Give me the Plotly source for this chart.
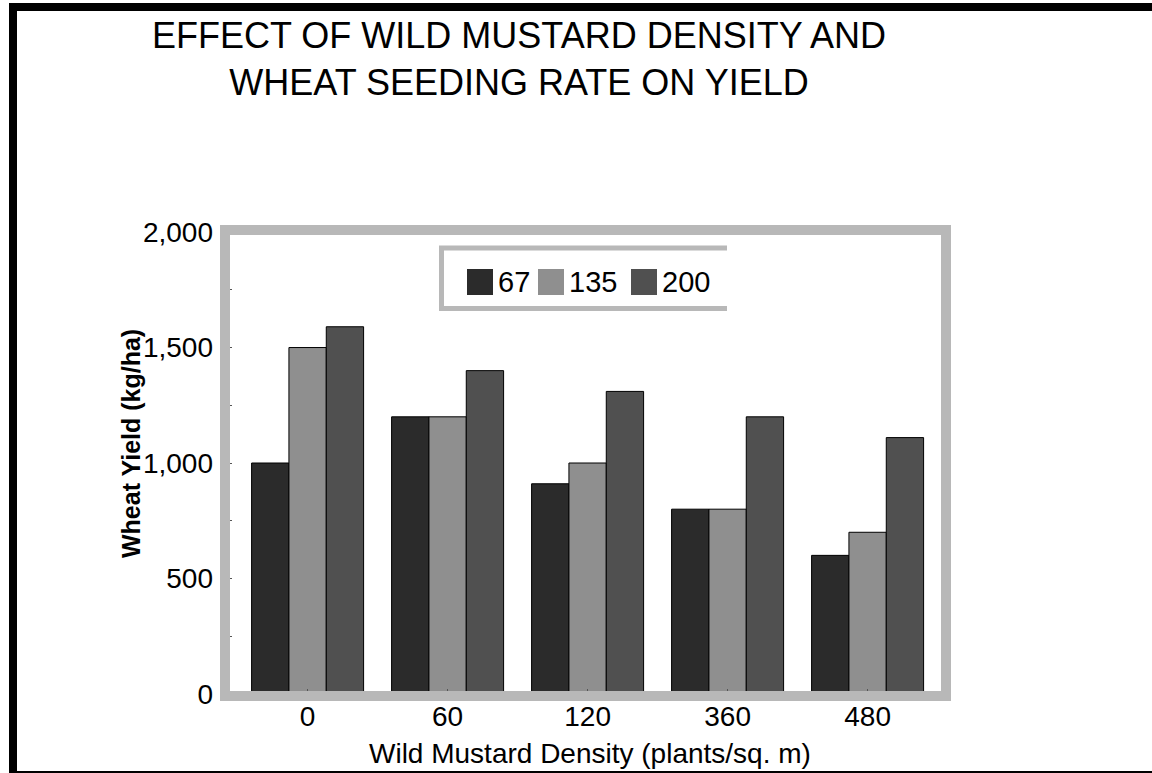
import plotly.graph_objects as go

# ---- data ----
categories = ["0", "60", "120", "360", "480"]
series_names = ["67", "135", "200"]
yield_67 = [1000, 1200, 910, 800, 600]
yield_135 = [1500, 1200, 1000, 800, 700]
yield_200 = [1590, 1400, 1310, 1200, 1110]
y_tick_vals = [0, 500, 1000, 1500, 2000]
y_tick_text = ["0", "500", "1,000", "1,500", "2,000"]

series_values = [yield_67, yield_135, yield_200]
colors = ["#2b2b2b", "#8f8f8f", "#505050"]

FONT = "Arial, Liberation Sans, sans-serif"

fig = go.Figure()
for name, vals, col in zip(series_names, series_values, colors):
    fig.add_trace(go.Bar(
        x=categories, y=vals, name=name,
        marker=dict(color=col, line=dict(color="#000000", width=1)),
        showlegend=False,
    ))

# Figure fills the page from (0,0)
FIG_W, FIG_H = 1152, 773
L, R, T, B = 225, 946, 230, 696          # plot area in page pixels
W, H = R - L, B - T
def xp(px):
    return (px - L) / W
def yp(py):
    return (B - py) / H

shapes = []
# outer black frame (left, top, bottom edges; right edge lies outside the page)
shapes.append(dict(type="path", xref="paper", yref="paper",
                   path="M {r},{t} L {l},{t} L {l},{b} L {r},{b}".format(
                       r=xp(1170), l=xp(13), t=yp(7), b=yp(775)),
                   line=dict(color="#000000", width=8), layer="above"))
# gray plot frame
shapes.append(dict(type="rect", xref="paper", yref="paper",
                   x0=0, x1=1, y0=0, y1=1,
                   line=dict(color="#b8b8b8", width=10), layer="above"))
# legend box (open on the right)
shapes.append(dict(type="path", xref="paper", yref="paper",
                   path="M {a},{b} L {c},{b} L {c},{d} L {a},{d}".format(
                       a=xp(727), b=yp(248), c=xp(441.5), d=yp(308.5)),
                   line=dict(color="#b8b8b8", width=5), layer="above"))

annotations = []
# custom legend built from series names and colours
legend_x = [467, 538, 631]
for name, col, lx in zip(series_names, colors, legend_x):
    shapes.append(dict(type="rect", xref="paper", yref="paper",
                       x0=xp(lx), x1=xp(lx + 26), y0=yp(295), y1=yp(269),
                       fillcolor=col, line=dict(width=0), layer="above"))
    annotations.append(dict(text=name, xref="paper", yref="paper",
                            x=xp(lx + 29), y=yp(282), xanchor="left", yanchor="middle",
                            showarrow=False, font=dict(family=FONT, size=29, color="#000")))

# title
annotations.append(dict(text="EFFECT OF WILD MUSTARD DENSITY AND<br>WHEAT SEEDING RATE ON YIELD",
                        xref="paper", yref="paper", x=xp(519), y=yp(59),
                        xanchor="center", yanchor="middle", showarrow=False,
                        font=dict(family=FONT, size=36, color="#000")))
# y-axis title
annotations.append(dict(text="<b>Wheat Yield (kg/ha)</b>", xref="paper", yref="paper",
                        x=xp(131), y=yp(444), textangle=-90,
                        xanchor="center", yanchor="middle", showarrow=False,
                        font=dict(family=FONT, size=25, color="#000")))
# x-axis title
annotations.append(dict(text="Wild Mustard Density (plants/sq. m)", xref="paper", yref="paper",
                        x=xp(590), y=yp(753), xanchor="center", yanchor="middle",
                        showarrow=False, font=dict(family=FONT, size=28, color="#000")))

fig.update_layout(
    width=FIG_W, height=FIG_H,
    margin=dict(l=L, r=FIG_W - R, t=T, b=FIG_H - B, pad=0),
    paper_bgcolor="#ffffff", plot_bgcolor="#ffffff",
    barmode="group", bargap=0.2, bargroupgap=0,
    shapes=shapes, annotations=annotations,
    font=dict(family=FONT, color="#000"),
    xaxis=dict(type="category", range=[-0.59, 4.56], showgrid=False, zeroline=False,
               showline=False, ticks="inside", ticklen=7, tickcolor="#555", tickwidth=1,
               tickfont=dict(family=FONT, size=28, color="#000"), ticklabelstandoff=1),
    yaxis=dict(range=[-9, 2009], showgrid=False, zeroline=False, showline=False,
               tickvals=y_tick_vals, ticktext=y_tick_text,
               ticks="inside", ticklen=7, tickcolor="#555", tickwidth=1,
               minor=dict(ticks="inside", dtick=250, ticklen=7, tickcolor="#555", tickwidth=1),
               tickfont=dict(family=FONT, size=28, color="#000"), ticklabelstandoff=11),
)

# remove the default page margin so the figure sits at the window origin
fig.write_html("out.html",
               config={"displayModeBar": False},
               post_script="document.body.style.margin='0';document.body.style.overflow='hidden';")
